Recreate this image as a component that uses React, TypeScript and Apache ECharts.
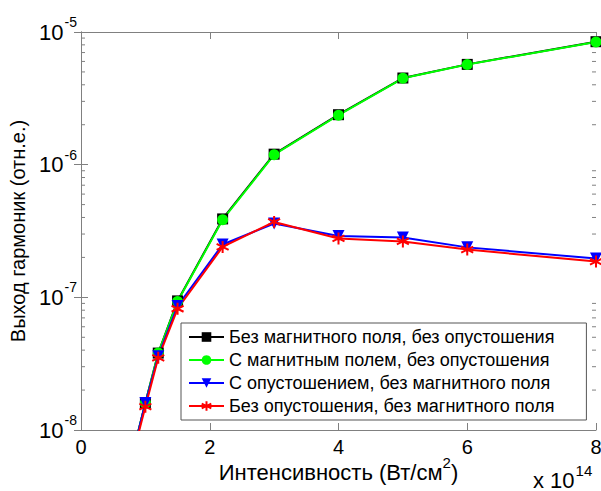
import React, { useEffect, useRef } from "react";
import * as echarts from "echarts";

// Intensity, units of 10^14 W/cm^2
const intensity = [0.8, 1, 1.2, 1.5, 2.2, 3, 4, 5, 6, 8];

// Harmonic yield (arb. units)
const noFieldNoDepletion = [6.5e-9, 1.6e-8, 3.8e-8, 9.4e-8, 3.9e-7, 1.2e-6, 2.38e-6, 4.5e-6, 5.7e-6, 8.45e-6];
const fieldNoDepletion = [6.5e-9, 1.6e-8, 3.8e-8, 9.3e-8, 3.85e-7, 1.19e-6, 2.36e-6, 4.48e-6, 5.68e-6, 8.4e-6];
const depletionNoField = [6.5e-9, 1.6e-8, 3.6e-8, 8.6e-8, 2.5e-7, 3.6e-7, 2.9e-7, 2.82e-7, 2.38e-7, 1.96e-7];
const noDepletionNoField = [6.3e-9, 1.5e-8, 3.5e-8, 8.2e-8, 2.4e-7, 3.7e-7, 2.78e-7, 2.64e-7, 2.29e-7, 1.86e-7];

const seriesNames = [
  "Без магнитного поля, без опустошения",
  "С магнитным полем, без опустошения",
  "С опустошением, без магнитного поля",
  "Без опустошения, без магнитного поля",
];

const xTicks = [0, 2, 4, 6, 8];
const yMin = 1e-8;
const yMax = 1e-5;

// minor ticks of the log axis: 2..9 within each decade
const minorTickValues: number[] = [];
for (const decade of [1e-8, 1e-7, 1e-6]) {
  for (let m = 2; m <= 9; m++) minorTickValues.push(m * decade);
}

const FONT = "Liberation Sans, Arial, sans-serif";
const AXIS_GRAY = "#808080";

const STAR = "path://M0,-6L0,6M-5.2,-3L5.2,3M-5.2,3L5.2,-3";

const pairs = (ys: number[]) => intensity.map((x, i) => [x, ys[i]]);

export default function App() {
  const ref = useRef<HTMLDivElement>(null);

  useEffect(() => {
    if (!ref.current) return;
    const chart = echarts.init(ref.current, undefined, { renderer: "svg" });

    const lineCommon = {
      type: "line" as const,
      clip: true,
      showAllSymbol: true,
      z: 5,
    };

    const exponentLabel = (v: number) => {
      const e = Math.round(Math.log10(v));
      return `{b|10}{s|${e}}`;
    };

    const tickAxisCommon = {
      axisLine: { show: true, lineStyle: { color: AXIS_GRAY, width: 1 } },
      axisTick: { show: true, inside: true, length: 7, lineStyle: { color: AXIS_GRAY } },
      splitLine: { show: false },
    };

    chart.setOption({
      animation: false,
      backgroundColor: "#fff",
      textStyle: { fontFamily: FONT },
      grid: {
        left: 81,
        top: 32,
        right: 5,
        bottom: 61,
        containLabel: false,
        outerBoundsMode: "none",
      },
      xAxis: [
        {
          type: "value",
          min: 0,
          max: 8,
          interval: 2,
          position: "bottom",
          ...tickAxisCommon,
          axisLabel: {
            show: true,
            margin: 7,
            fontSize: 20,
            color: "#000",
            fontFamily: FONT,
            formatter: (v: number) => (xTicks.includes(v) ? String(v) : ""),
          },
          name: "{t|Интенсивность (Вт/см}{s|2}{t|)}",
          nameLocation: "middle",
          nameGap: 26,
          nameMoveOverlap: false,
          nameTextStyle: {
            rich: {
              t: { fontSize: 22, lineHeight: 22, color: "#000", fontFamily: FONT, padding: [10, 0, 0, 0] },
              s: { fontSize: 15, lineHeight: 15, color: "#000", fontFamily: FONT, padding: [0, 0, 9, 0] },
            },
          },
        },
        {
          type: "value",
          min: 0,
          max: 8,
          interval: 2,
          position: "top",
          ...tickAxisCommon,
          axisLabel: { show: false },
        },
      ],
      yAxis: [
        {
          type: "log",
          logBase: 10,
          min: yMin,
          max: yMax,
          position: "left",
          ...tickAxisCommon,
          axisLabel: {
            show: true,
            margin: 4,
            formatter: exponentLabel,
            rich: {
              b: { fontSize: 22, color: "#000", fontFamily: FONT },
              s: { fontSize: 14, color: "#000", fontFamily: FONT, padding: [0, 0, 20, 1] },
            },
          },
          name: "Выход гармоник (отн.е.)",
          nameLocation: "middle",
          nameGap: 45,
          nameRotate: 90,
          nameTextStyle: { fontSize: 20, color: "#000", fontFamily: FONT },
        },
        {
          type: "log",
          logBase: 10,
          min: yMin,
          max: yMax,
          position: "right",
          ...tickAxisCommon,
          axisLabel: { show: false },
        },
      ],
      legend: {
        data: seriesNames,
        orient: "vertical",
        left: 181,
        top: 323,
        backgroundColor: "#fff",
        borderColor: "#555",
        borderWidth: 1,
        borderRadius: 0,
        padding: [5, 32, 5, 7],
        itemGap: 5,
        itemWidth: 35,
        itemHeight: 12,
        textStyle: { fontSize: 18, color: "#000", fontFamily: FONT },
      },
      series: [
        {
          // minor ticks on the left and right edges of the log axis
          type: "custom",
          silent: true,
          z: 1,
          xAxisIndex: 0,
          yAxisIndex: 0,
          data: minorTickValues.map((v) => [0, v]),
          encode: { x: 0, y: 1 },
          renderItem: (_params: any, api: any) => {
            const v = api.value(1);
            const l = api.coord([0, v]);
            const r = api.coord([8, v]);
            const style = { stroke: AXIS_GRAY, lineWidth: 1 };
            return {
              type: "group",
              children: [
                { type: "line", shape: { x1: l[0], y1: l[1], x2: l[0] + 4, y2: l[1] }, style },
                { type: "line", shape: { x1: r[0] - 4, y1: r[1], x2: r[0], y2: r[1] }, style },
              ],
            };
          },
        },
        {
          ...lineCommon,
          name: seriesNames[0],
          data: pairs(noFieldNoDepletion),
          symbol: "rect",
          symbolSize: 11,
          lineStyle: { color: "#000", width: 2 },
          itemStyle: { color: "#000" },
        },
        {
          ...lineCommon,
          name: seriesNames[1],
          data: pairs(fieldNoDepletion),
          symbol: "circle",
          symbolSize: 11,
          lineStyle: { color: "#00ff00", width: 2 },
          itemStyle: { color: "#00ff00" },
        },
        {
          ...lineCommon,
          name: seriesNames[2],
          data: pairs(depletionNoField),
          symbol: "triangle",
          symbolRotate: 180,
          symbolSize: 12,
          lineStyle: { color: "#0000ff", width: 2 },
          itemStyle: { color: "#0000ff" },
        },
        {
          ...lineCommon,
          name: seriesNames[3],
          data: pairs(noDepletionNoField),
          symbol: STAR,
          symbolSize: 12,
          lineStyle: { color: "#ff0000", width: 2 },
          itemStyle: { color: "#ff0000", borderColor: "#ff0000", borderWidth: 2 },
        },
      ],
      graphic: [
        {
          type: "text",
          left: 533,
          top: 459,
          style: {
            text: "{t|x 10}{s|14}",
            rich: {
              t: { fontSize: 22, lineHeight: 22, fill: "#000", fontFamily: FONT, padding: [10, 0, 0, 0] },
              s: { fontSize: 15, lineHeight: 15, fill: "#000", fontFamily: FONT, padding: [0, 0, 9, 1] },
            },
          },
        },
      ],
    });

    return () => chart.dispose();
  }, []);

  return (
    <div
      ref={ref}
      style={{ position: "fixed", left: 0, top: 0, width: 601, height: 491, background: "#fff" }}
    />
  );
}
